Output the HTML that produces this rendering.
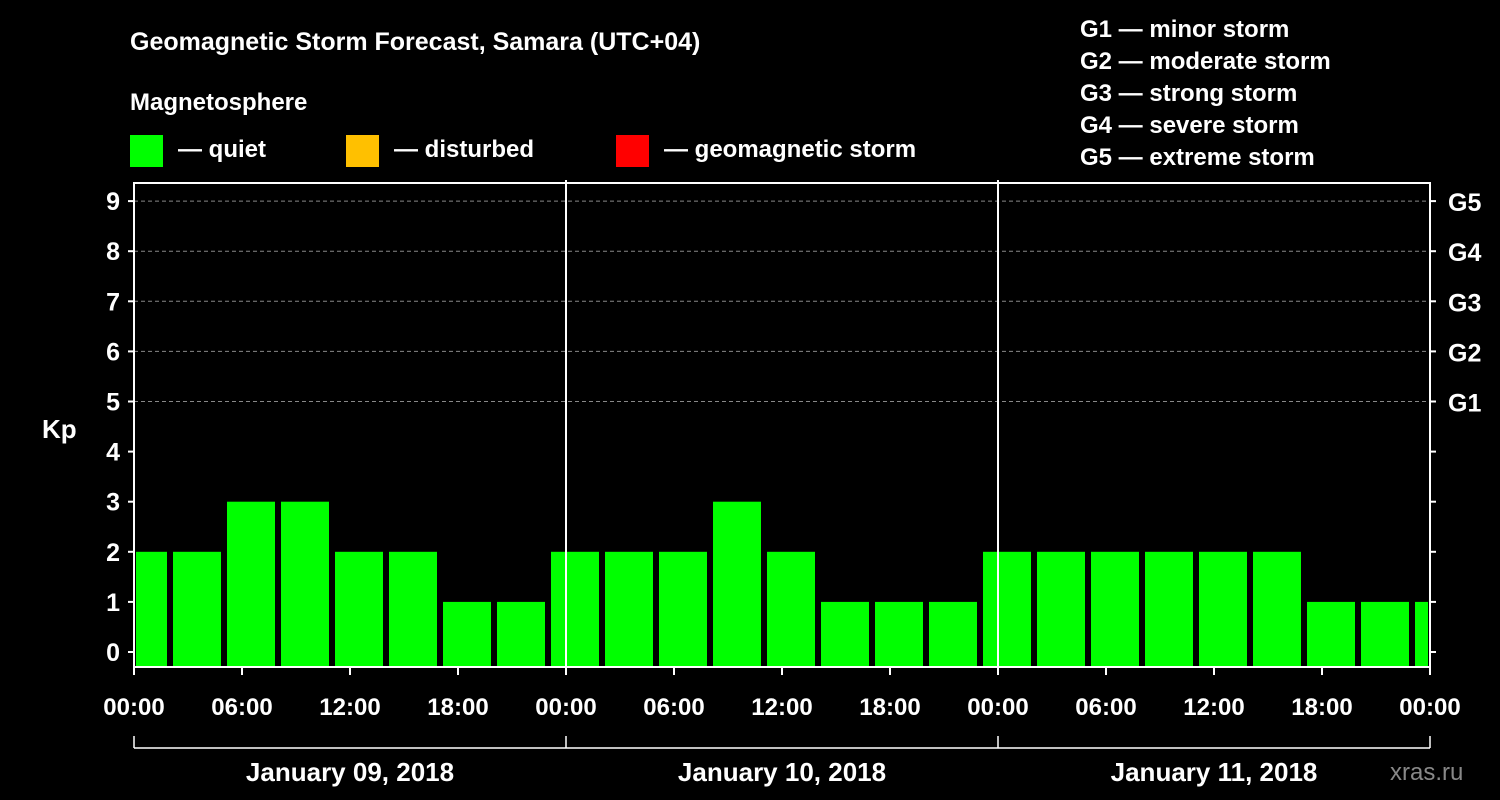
<!DOCTYPE html>
<html><head><meta charset="utf-8"><style>
html,body{margin:0;padding:0;background:#000;}
svg{display:block;font-family:"Liberation Sans",Arial,sans-serif;font-weight:bold;}
</style></head><body>
<svg id="chart" width="1500" height="800" viewBox="0 0 1500 800">
<rect width="1500" height="800" fill="#000"/>
<text x="130" y="50" fill="#fff" font-size="25">Geomagnetic Storm Forecast, Samara (UTC+04)</text>
<text x="130" y="110" fill="#fff" font-size="24">Magnetosphere</text>
<g><rect x="130" y="135" width="33" height="32" fill="#00ff00"/><text x="178" y="157" fill="#fff" font-size="24">— quiet</text></g>
<g><rect x="346" y="135" width="33" height="32" fill="#ffc000"/><text x="394" y="157" fill="#fff" font-size="24">— disturbed</text></g>
<g><rect x="616" y="135" width="33" height="32" fill="#ff0000"/><text x="664" y="157" fill="#fff" font-size="24">— geomagnetic storm</text></g>
<g fill="#fff" font-size="24">
<text x="1080" y="37">G1 — minor storm</text>
<text x="1080" y="69">G2 — moderate storm</text>
<text x="1080" y="101">G3 — strong storm</text>
<text x="1080" y="133">G4 — severe storm</text>
<text x="1080" y="165">G5 — extreme storm</text>
</g>
<text x="42" y="438" fill="#fff" font-size="26">Kp</text>
<text x="1390" y="780" fill="#888" font-size="24" font-weight="normal">xras.ru</text>
<g id="plot"></g>
</svg>
<script>
const kpValues=[2,2,3,3,2,2,1,1,2,2,2,3,2,1,1,1,2,2,2,2,2,2,1,1,1];
const yTicks=[0,1,2,3,4,5,6,7,8,9];
const gLabels=["","","","","","G1","G2","G3","G4","G5"];
const xTickLabels=["00:00","06:00","12:00","18:00","00:00","06:00","12:00","18:00","00:00","06:00","12:00","18:00","00:00"];
const dayLabels=["January 09, 2018","January 10, 2018","January 11, 2018"];
const firstBarStartHour=-2; // bars start at 01:00 local, 3h each
const NS="http://www.w3.org/2000/svg";
const L=134,R=1430,T=183,B=667;
const hoursTotal=72;
function x(h){return L+(R-L)*h/hoursTotal;}
function y(v){return 652-v*50.1;}
const g=document.getElementById('plot');
function mk(tag,attrs,parent){const e=document.createElementNS(NS,tag);for(const k in attrs)e.setAttribute(k,attrs[k]);(parent||g).appendChild(e);return e;}
// gridlines
yTicks.forEach(v=>{if(v>=5){const l=mk('line',{x1:L,x2:R,y1:y(v),y2:y(v),stroke:'#888','stroke-dasharray':'4,3','stroke-width':1});

}});
// bars
kpValues.forEach((v,i)=>{
 let h0=firstBarStartHour+i*3+1, h1=h0+3;
 let x0=x(h0)+3, x1=x(h1)-3;
 if(h0<0) x0=x(0)+2;
 if(h1>hoursTotal) x1=x(hoursTotal)-2;
 const c=v<4?'#00ff00':(v<5?'#ffc000':'#ff0000');
 const r=mk('rect',{x:x0,y:y(v),width:x1-x0,height:B-y(v),fill:c});
 
 
});
// day separators
[24,48].forEach(h=>{const l=mk('line',{x1:x(h),x2:x(h),y1:T-3,y2:B,stroke:'#fff','stroke-width':2});

});
// frame
const f=mk('rect',{x:L,y:T,width:R-L,height:B-T,fill:'none',stroke:'#fff','stroke-width':2});


// y ticks
yTicks.forEach((v,i)=>{
 mk('line',{x1:L-6,x2:L,y1:y(v),y2:y(v),stroke:'#fff','stroke-width':2});
 mk('line',{x1:R,x2:R+6,y1:y(v),y2:y(v),stroke:'#fff','stroke-width':2});
 const t=mk('text',{x:L-14,y:y(v)+9,fill:'#fff','font-size':25,'text-anchor':'end'});t.textContent=v;
 
 
 if(gLabels[i]){const t2=mk('text',{x:R+18,y:y(v)+10,fill:'#fff','font-size':25});t2.textContent=gLabels[i];
 
 }
});
// x ticks
xTickLabels.forEach((s,i)=>{const h=i*6;
 mk('line',{x1:x(h),x2:x(h),y1:B,y2:B+8,stroke:'#fff','stroke-width':2});
 const t=mk('text',{x:x(h),y:715,fill:'#fff','font-size':24,'text-anchor':'middle'});t.textContent=s;
 
 });
// day bracket
mk('line',{x1:x(0),x2:x(72),y1:748,y2:748,stroke:'#fff','stroke-width':1.5});
[0,24,48,72].forEach(h=>mk('line',{x1:x(h),x2:x(h),y1:736,y2:748,stroke:'#fff','stroke-width':1.5}));
dayLabels.forEach((s,i)=>{const t=mk('text',{x:x(i*24+12),y:781,fill:'#fff','font-size':26,'text-anchor':'middle'});t.textContent=s;
 
 });
</script>
</body></html>
